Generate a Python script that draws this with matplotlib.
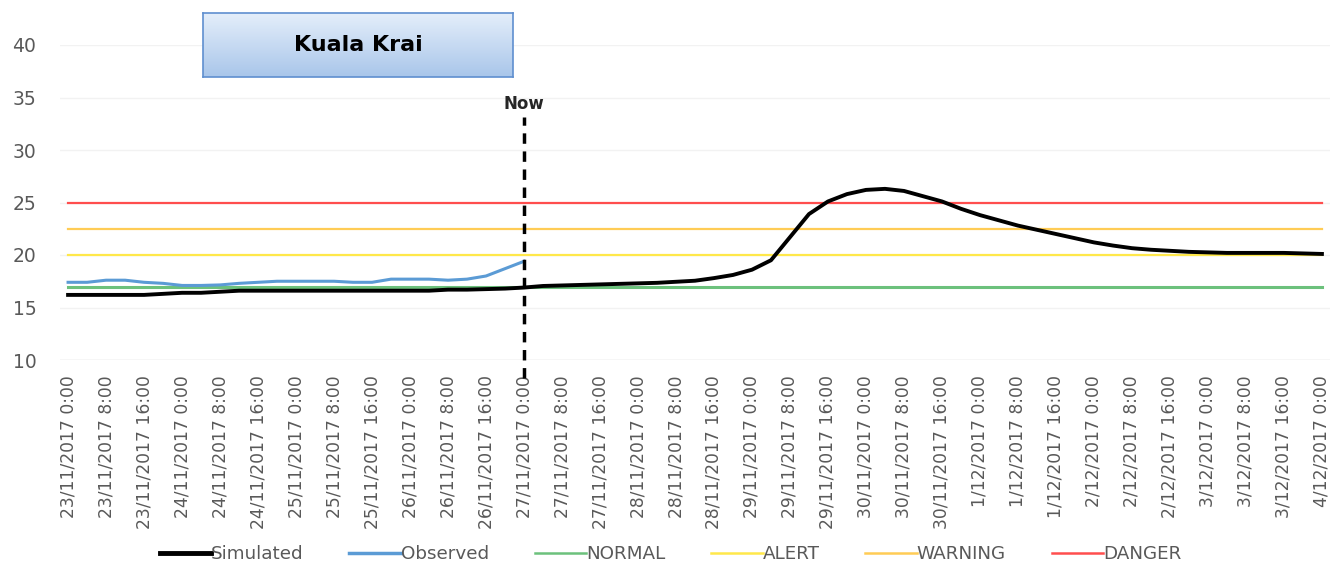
import numpy as np
import pandas as pd
import matplotlib
matplotlib.use('Agg')
import matplotlib.pyplot as plt
from matplotlib.lines import Line2D

plt.rcParams['font.family'] = ['DejaVu Sans']

# ---- data ----
# hours since 23/11/2017 0:00, 4 hour steps
observed = [17.4, 17.4, 17.6, 17.6, 17.4, 17.3, 17.1, 17.1, 17.15, 17.3,
            17.4, 17.5, 17.5, 17.5, 17.5, 17.4, 17.4, 17.7, 17.7, 17.7,
            17.6, 17.7, 18.0, 18.7, 19.4]
simulated = [16.2, 16.2, 16.2, 16.2, 16.2, 16.3, 16.4, 16.4, 16.5, 16.6,
             16.6, 16.6, 16.6, 16.6, 16.6, 16.6, 16.6, 16.6, 16.6, 16.6,
             16.7, 16.7, 16.75, 16.8, 16.9, 17.05, 17.1, 17.15, 17.2, 17.25,
             17.3, 17.35, 17.45, 17.55, 17.8, 18.1, 18.6, 19.5, 21.7, 23.9,
             25.1, 25.8, 26.2, 26.3, 26.1, 25.6, 25.1, 24.4, 23.8, 23.3,
             22.8, 22.4, 22.0, 21.6, 21.2, 20.9, 20.65, 20.5, 20.4, 20.3,
             20.25, 20.2, 20.2, 20.2, 20.2, 20.15, 20.1]
levels = {'NORMAL': 17.0, 'ALERT': 20.0, 'WARNING': 22.5, 'DANGER': 25.0}
now_hour = 96

start = pd.Timestamp('2017-11-23 00:00')
tick_times = pd.date_range(start, '2017-12-04 00:00', freq='8h')
tick_hours = [(t - start).total_seconds() / 3600 for t in tick_times]
tick_labels = [f'{t.day}/{t.month}/{t.year} {t.hour}:00' for t in tick_times]

t_obs = np.arange(len(observed)) * 4
t_sim = np.arange(len(simulated)) * 4

level_colors = {'NORMAL': '#6cc17c', 'ALERT': '#ffe84a',
                'WARNING': '#ffcc55', 'DANGER': '#ff4e4e'}

fig = plt.figure(figsize=(13.41, 5.66), dpi=100)
ax = fig.add_axes([60 / 1341, 1 - 360 / 566, 1270 / 1341, 315 / 566])

ax.set_xlim(-1.7, 265.7)
ax.set_ylim(10, 40)
ax.set_yticks(range(10, 41, 5))
ax.grid(axis='y', color='#f2f2f2', lw=1)
ax.set_axisbelow(True)
for s in ax.spines.values():
    s.set_visible(False)
ax.axhline(10, color='#e0e0e0', lw=1, zorder=1)

for name, val in levels.items():
    lw = 2.2 if name == 'NORMAL' else 1.6
    ax.plot([0, 264], [val, val], color=level_colors[name], lw=lw, zorder=2)

ax.plot(t_obs, observed, color='#5b9bd5', lw=2.2, zorder=3)
ax.plot(t_sim, simulated, color='black', lw=2.8, zorder=4)

# "Now" marker
ax.plot([now_hour, now_hour], [8.3, 33.1], color='black', lw=2.5,
        ls=(0, (3, 2.2)), clip_on=False, zorder=5)
ax.text(now_hour, 34.4, 'Now', ha='center', va='center', fontsize=12,
        fontweight='bold', color='#262626')

ax.set_xticks(tick_hours)
ax.set_xticklabels(tick_labels, rotation=90, fontsize=12.3, color='#595959')
ax.tick_params(axis='x', length=0, pad=11)
ax.tick_params(axis='y', length=0, pad=17, labelsize=13.5, labelcolor='#595959')

# title box with gradient
bax = fig.add_axes([203 / 1341, 1 - 77 / 566, 310 / 1341, 64 / 566])
grad = np.linspace(0, 1, 100).reshape(-1, 1)
cmap = matplotlib.colors.LinearSegmentedColormap.from_list('g', ['#e4eefa', '#a9c6ea'])
bax.imshow(grad, aspect='auto', cmap=cmap, extent=[0, 1, 0, 1], origin='upper')
bax.set_xticks([])
bax.set_yticks([])
for s in bax.spines.values():
    s.set_color('#5f8fcf')
    s.set_linewidth(1.2)
bax.text(0.5, 0.5, 'Kuala Krai', ha='center', va='center', fontsize=16,
         fontweight='bold', color='black', transform=bax.transAxes)

handles = [Line2D([], [], color='black', lw=3.5),
           Line2D([], [], color='#5b9bd5', lw=2.5)]
handles += [Line2D([], [], color=level_colors[n], lw=1.8) for n in levels]
labels = ['Simulated', 'Observed'] + list(levels.keys())
fig.legend(handles, labels, loc='center', bbox_to_anchor=(0.5, 1 - 554 / 566),
           ncol=6, frameon=False, fontsize=13.2, handlelength=2.8,
           handletextpad=0.0, columnspacing=2.5, labelcolor='#595959')

fig.savefig('out.png', dpi=100)
